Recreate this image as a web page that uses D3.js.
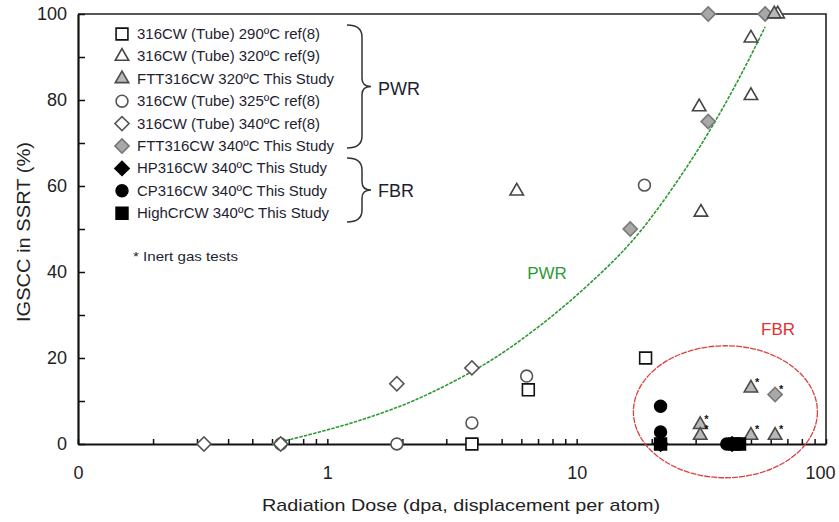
<!DOCTYPE html>
<html>
<head>
<meta charset="utf-8">
<script src="https://cdn.jsdelivr.net/npm/d3@7"></script>
<style>
  body { margin: 0; background: #fff; }
  svg { display: block; font-family: "Liberation Sans", Arial, sans-serif; }
</style>
</head>
<body>
<svg id="chart" width="839" height="522"></svg>
<script>
/*
  IGSCC in SSRT vs radiation dose, PWR / FBR data sets
*/

// series values: [dose (dpa), IGSCC (%)]
const tube290ref8 = [[3.8, 0], [6.4, 12.6], [18.9, 20]]
const tube320ref9 = [[5.75, 58.8], [31, 78.4], [31.5, 53.9], [50, 94.4], [50, 81], [64, 100]]
const ftt320 = [[62, 100]]
const ftt320Inert = [[31.3, 4.5], [31.3, 2], [50, 13], [50, 2], [62.5, 2]]
const tube325ref8 = [[0.65, 0], [1.9, 0], [3.8, 4.9], [6.3, 15.8], [18.7, 60.2]]
const tube340ref8 = [[0.32, 0], [0.65, 0], [1.9, 14], [3.8, 17.7]]
const ftt340 = [[16.4, 50], [33.7, 75], [33.7, 100], [57, 100]]
const ftt340Inert = [[62.5, 11.5]]
const hp340 = [[21.7, 0], [42, 0]]
const cp340 = [[21.7, 8.8], [21.7, 2.8], [40, 0]]
const highCr340 = [[21.7, 0], [43, 0], [45, 0]]

// PWR trend line
const fitDose = [0.6, 1.0, 1.38, 1.94, 2.56, 3.9, 5.5, 7.7, 9.7, 14.7, 19.4, 26, 33, 44.5, 57]
const fitIgscc = [0, 3.2, 5.6, 8.6, 11.6, 17, 22.5, 29, 33.8, 43.4, 51.5, 62, 71.2, 84.4, 97]

// tick labels
const xTickValues = [0.1, 1, 10, 100]
const xTickLabels = ["0", "1", "10", "100"]
const yTickValues = [0, 10, 20, 30, 40, 50, 60, 70, 80, 90, 100]

// legend rows
const legendLabels = [
  "316CW (Tube) 290ºC ref(8)",
  "316CW (Tube) 320ºC ref(9)",
  "FTT316CW 320ºC This Study",
  "316CW (Tube) 325ºC ref(8)",
  "316CW (Tube) 340ºC ref(8)",
  "FTT316CW 340ºC This Study",
  "HP316CW 340ºC This Study",
  "CP316CW 340ºC This Study",
  "HighCrCW 340ºC This Study"
]
const legendWidths = [183, 183, 197, 183, 183, 197, 190, 190, 192]

const styles = {
  sqOpen: { shape: "square", fill: "#fff", stroke: "#111" },
  triOpen: { shape: "triangle", fill: "#fff", stroke: "#444" },
  triGray: { shape: "triangle", fill: "#b8b8b8", stroke: "#4a4a4a" },
  cirOpen: { shape: "circle", fill: "#fff", stroke: "#555" },
  diaOpen: { shape: "diamond", fill: "#fff", stroke: "#555" },
  diaGray: { shape: "diamond", fill: "#a8a8a8", stroke: "#777" },
  diaBlack: { shape: "diamond", fill: "#000", stroke: "#000" },
  cirBlack: { shape: "circle", fill: "#000", stroke: "#000" },
  sqBlack: { shape: "square", fill: "#000", stroke: "#000" }
}
const legendStyles = ["sqOpen", "triOpen", "triGray", "cirOpen", "diaOpen", "diaGray", "diaBlack", "cirBlack", "sqBlack"]

const layers = [
  { data: tube325ref8, style: "cirOpen" },
  { data: tube340ref8, style: "diaOpen" },
  { data: tube290ref8, style: "sqOpen" },
  { data: tube320ref9, style: "triOpen" },
  { data: ftt340, style: "diaGray" },
  { data: ftt320, style: "triGray" },
  { data: ftt320Inert, style: "triGray", inert: true },
  { data: ftt340Inert, style: "diaGray", inert: true },
  { data: hp340, style: "diaBlack" },
  { data: highCr340, style: "sqBlack" },
  { data: cp340, style: "cirBlack" }
]

const margin = { left: 78, right: 826, top: 14, bottom: 444 }

const svg = d3.select("#chart")

const x = d3.scaleLog().domain([0.1, 100]).range([margin.left, margin.right])
const y = d3.scaleLinear().domain([0, 100]).range([margin.bottom, margin.top])

function symbolPath(shape) {
  const gen = {
    square: d3.symbol(d3.symbolSquare, 140),
    triangle: d3.symbol(d3.symbolTriangle, 78),
    circle: d3.symbol(d3.symbolCircle, 110),
    diamond: d3.symbol(d3.symbolSquare, 100)
  }
  return gen[shape]()
}

function drawMarker(g, px, py, styleName) {
  const s = styles[styleName]
  g.append("path")
    .attr("d", symbolPath(s.shape))
    .attr("transform", `translate(${px},${py})` + (s.shape === "diamond" ? " rotate(45)" : ""))
    .attr("fill", s.fill)
    .attr("stroke", s.stroke)
    .attr("stroke-width", 1.6)
}

// frame (top and right)
svg.append("path")
  .attr("d", `M${margin.left},${margin.top}H${margin.right}V${margin.bottom}`)
  .attr("fill", "none")
  .attr("stroke", "#222")
  .attr("stroke-width", 1.6)

// x axis
const xAxis = svg.append("g")
  .attr("transform", `translate(0,${margin.bottom})`)
  .call(d3.axisBottom(x)
    .tickValues(x.ticks())
    .tickSizeInner(-5)
    .tickSizeOuter(0)
    .tickPadding(22)
    .tickFormat(d => {
      const i = xTickValues.findIndex(v => Math.abs(v - d) < 1e-9)
      return i >= 0 ? xTickLabels[i] : ""
    }))
xAxis.select(".domain").attr("stroke", "#111").attr("stroke-width", 2.2)
xAxis.selectAll(".tick line").attr("stroke", "#111").attr("stroke-width", 1.5)
xAxis.selectAll(".tick text")
  .attr("fill", "#222")
  .attr("dx", d => d === 100 ? -6 : 0)
  .style("font-size", "18px")

// y axis
const yAxis = svg.append("g")
  .attr("transform", `translate(${margin.left},0)`)
  .call(d3.axisLeft(y)
    .tickValues(yTickValues)
    .tickSizeInner(-7)
    .tickSizeOuter(0)
    .tickPadding(11)
    .tickFormat(d => d % 20 === 0 ? d : ""))
yAxis.select(".domain").attr("stroke", "#111").attr("stroke-width", 2.2)
yAxis.selectAll(".tick line").attr("stroke", "#111").attr("stroke-width", 1.5)
yAxis.selectAll(".tick text")
  .attr("fill", "#222")
  .style("font-size", "18px")

// axis titles
svg.append("text")
  .attr("x", 461)
  .attr("y", 511)
  .attr("text-anchor", "middle")
  .attr("fill", "#222")
  .attr("textLength", 398)
  .attr("lengthAdjust", "spacingAndGlyphs")
  .style("font-size", "17px")
  .text("Radiation Dose (dpa, displacement per atom)")

svg.append("text")
  .attr("transform", "translate(30,232) rotate(-90)")
  .attr("text-anchor", "middle")
  .attr("fill", "#222")
  .attr("textLength", 180)
  .attr("lengthAdjust", "spacingAndGlyphs")
  .style("font-size", "18px")
  .text("IGSCC in SSRT (%)")

// PWR trend line
const fitLine = d3.line()
  .x(d => x(d[0]))
  .y(d => y(d[1]))
  .curve(d3.curveBasis)

svg.append("path")
  .datum(fitDose.map((d, i) => [d, fitIgscc[i]]))
  .attr("d", fitLine)
  .attr("fill", "none")
  .attr("stroke", "#2f9a35")
  .attr("stroke-width", 1.6)
  .attr("stroke-dasharray", "3.5,1.2")

svg.append("text")
  .attr("x", 547)
  .attr("y", 279)
  .attr("text-anchor", "middle")
  .attr("fill", "#2f9a35")
  .style("font-size", "17px")
  .text("PWR")

// FBR ellipse
svg.append("ellipse")
  .attr("cx", x(39.5))
  .attr("cy", y(7.5))
  .attr("rx", 92)
  .attr("ry", 66)
  .attr("fill", "none")
  .attr("stroke", "#d9423f")
  .attr("stroke-width", 1.3)
  .attr("stroke-dasharray", "6,1")

svg.append("text")
  .attr("x", 778)
  .attr("y", 335)
  .attr("text-anchor", "middle")
  .attr("fill", "#e0332f")
  .style("font-size", "17px")
  .text("FBR")

// data points
const pts = svg.append("g")
layers.forEach(layer => {
  layer.data.forEach(d => {
    drawMarker(pts, x(d[0]), y(d[1]), layer.style)
    if (layer.inert) {
      pts.append("text")
        .attr("x", x(d[0]) + 4)
        .attr("y", y(d[1]) - 2)
        .attr("fill", "#111")
        .style("font-size", "11px")
        .style("font-weight", "bold")
        .text("*")
    }
  })
})

// legend
const legend = svg.append("g")
legendLabels.forEach((label, i) => {
  const ry = 34 + i * 22.4
  drawMarker(legend, 122, ry, legendStyles[i])
  legend.append("text")
    .attr("x", 137)
    .attr("y", ry + 5)
    .attr("fill", "#1e1e30")
    .attr("textLength", legendWidths[i])
    .attr("lengthAdjust", "spacingAndGlyphs")
    .style("font-size", "14px")
    .text(label)
})

legend.append("text")
  .attr("x", 133)
  .attr("y", 261)
  .attr("fill", "#1e1e30")
  .attr("textLength", 105)
  .attr("lengthAdjust", "spacingAndGlyphs")
  .style("font-size", "13px")
  .text("* Inert gas tests")

// braces
function brace(top, bottom) {
  const mid = (top + bottom) / 2
  return `M347,${top} Q362,${top} 362,${top + 12} L362,${mid - 8} Q362,${mid} 371,${mid}` +
    ` Q362,${mid} 362,${mid + 8} L362,${bottom - 12} Q362,${bottom} 347,${bottom}`
}

svg.append("path")
  .attr("d", brace(25, 148))
  .attr("fill", "none")
  .attr("stroke", "#333")
  .attr("stroke-width", 1.5)

svg.append("path")
  .attr("d", brace(158, 222))
  .attr("fill", "none")
  .attr("stroke", "#333")
  .attr("stroke-width", 1.5)

svg.append("text")
  .attr("x", 378)
  .attr("y", 95)
  .attr("fill", "#1e1e30")
  .style("font-size", "18px")
  .text("PWR")

svg.append("text")
  .attr("x", 378)
  .attr("y", 197)
  .attr("fill", "#1e1e30")
  .style("font-size", "18px")
  .text("FBR")
</script>
</body>
</html>
